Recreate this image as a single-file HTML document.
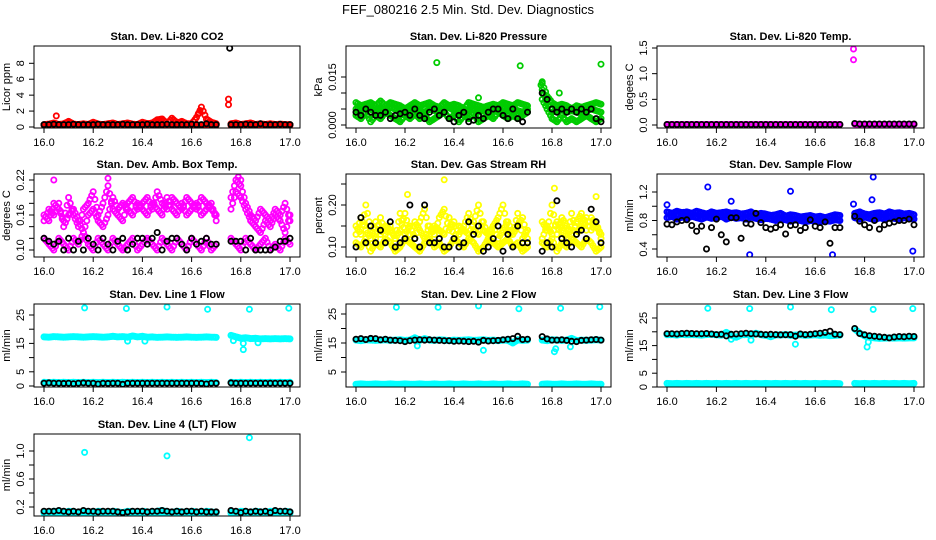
<!DOCTYPE html>
<html><head><meta charset="utf-8"><style>
html,body{margin:0;padding:0;background:#fff;}
svg{display:block;font-family:"Liberation Sans",Arial,sans-serif;}
</style></head><body>
<svg id="chart" width="936" height="540" viewBox="0 0 936 540">
<text x="468" y="14" text-anchor="middle" font-size="13">FEF_080216  2.5 Min. Std. Dev. Diagnostics</text>
</svg>
<script>
// shared time stamps (hours)
const tA=[16.00,16.02,16.04,16.06,16.08,16.10,16.12,16.14,16.16,16.18,16.20,16.22,16.24,16.26,16.28,16.30,16.32,16.34,16.36,16.38,16.40,16.42,16.44,16.46,16.48,16.50,16.52,16.54,16.56,16.58,16.60,16.62,16.64,16.66,16.68,16.70,
16.76,16.78,16.80,16.82,16.84,16.86,16.88,16.90,16.92,16.94,16.96,16.98,17.00];
const xTicks=[16.0,16.2,16.4,16.6,16.8,17.0];
const xTickLabels=["16.0","16.2","16.4","16.6","16.8","17.0"];

// Panel 1: CO2
const co2Red=[0.3,0.35,0.5,0.3,0.4,0.7,0.35,0.3,0.4,0.3,0.6,0.35,0.3,0.4,0.5,0.3,0.4,0.5,0.35,0.3,0.6,0.4,0.5,0.9,1.0,0.4,1.1,0.5,0.7,0.4,0.4,1.2,2.5,1.0,0.6,0.4,0.4,0.5,0.3,0.4,0.5,0.3,0.4,0.3,0.4,0.3,0.35,0.3,0.3];
const co2Red2=[0.2,0.25,0.2,0.15,0.25,0.2,0.2,0.25,0.2,0.15,0.2,0.25,0.2,0.2,0.15,0.25,0.2,0.2,0.25,0.2,0.15,0.2,0.25,0.2,0.2,0.25,0.2,0.15,0.2,0.25,0.2,0.2,0.25,0.2,0.2,0.25,0.2,0.25,0.2,0.15,0.2,0.25,0.2,0.2,0.15,0.2,0.25,0.2,0.2];
const co2Black=[0.3,0.3,0.35,0.3,0.3,0.3,0.35,0.3,0.3,0.3,0.3,0.35,0.3,0.3,0.3,0.3,0.35,0.3,0.3,0.3,0.3,0.35,0.3,0.3,0.3,0.35,0.3,0.3,0.3,0.3,0.35,0.3,0.3,0.4,0.3,0.3,0.3,0.3,0.3,0.35,0.3,0.3,0.4,0.3,0.3,0.3,0.35,0.3,0.3];
const co2RedOutT=[16.05,16.63,16.75,16.75], co2RedOutV=[1.4,1.8,3.5,2.8];
const co2BlackOutT=[16.755], co2BlackOutV=[9.9];

// Panel 2: Pressure
const prG1=[0.007,0.006,0.0065,0.007,0.006,0.0075,0.006,0.007,0.0065,0.006,0.005,0.006,0.007,0.006,0.0065,0.007,0.006,0.0055,0.007,0.006,0.0065,0.006,0.005,0.007,0.0065,0.006,0.0055,0.006,0.0065,0.006,0.007,0.0065,0.006,0.007,0.0065,0.006,0.013,0.009,0.007,0.006,0.0065,0.006,0.005,0.006,0.0055,0.006,0.0065,0.007,0.0065];
const prG2=[0.003,0.002,0.004,0.001,0.003,0.002,0.004,0.003,0.002,0.001,0.003,0.002,0.0035,0.002,0.003,0.001,0.002,0.003,0.004,0.002,0.003,0.001,0.003,0.002,0.0035,0.001,0.002,0.003,0.002,0.004,0.003,0.002,0.003,0.002,0.003,0.004,0.008,0.005,0.002,0.001,0.003,0.001,0.002,0.001,0.002,0.003,0.002,0.001,0.002];
const prG3=[0.005,0.0045,0.0055,0.005,0.004,0.005,0.0045,0.0055,0.005,0.004,0.0045,0.005,0.0055,0.0045,0.004,0.005,0.0045,0.004,0.005,0.0055,0.0045,0.004,0.005,0.0045,0.005,0.004,0.0045,0.005,0.0045,0.005,0.0055,0.0045,0.005,0.0045,0.004,0.005,0.011,0.007,0.004,0.0045,0.005,0.004,0.0045,0.004,0.0035,0.0045,0.005,0.0045,0.004];
const prBlack=[0.004,0.003,0.005,0.004,0.003,0.003,0.004,0.002,0.003,0.0035,0.004,0.003,0.005,0.003,0.002,0.004,0.005,0.003,0.004,0.002,0.001,0.003,0.004,0.001,0.0015,0.003,0.002,0.004,0.005,0.005,0.003,0.002,0.005,0.002,0.001,0.004,0.010,0.008,0.005,0.004,0.005,0.004,0.005,0.004,0.005,0.004,0.005,0.002,0.001];
const prOutT=[16.33,16.67,17.0,16.5,16.76,16.755,16.83], prOutV=[0.0195,0.0185,0.019,0.0085,0.0135,0.0125,0.010];

// Panel 3: Li-820 temp
const tmMag=[0.01,0.01,0.01,0.01,0.01,0.01,0.01,0.01,0.01,0.01,0.01,0.01,0.01,0.01,0.01,0.01,0.01,0.01,0.01,0.01,0.01,0.01,0.01,0.01,0.01,0.01,0.01,0.01,0.01,0.01,0.01,0.01,0.01,0.01,0.01,0.01,0.02,0.01,0.01,0.01,0.01,0.01,0.01,0.01,0.01,0.01,0.01,0.01,0.01];
const tmBlack=[0.01,0.01,0.01,0.01,0.01,0.01,0.01,0.01,0.01,0.01,0.01,0.01,0.01,0.01,0.01,0.01,0.01,0.01,0.01,0.01,0.01,0.01,0.01,0.01,0.01,0.01,0.01,0.01,0.01,0.01,0.01,0.01,0.01,0.01,0.01,0.01,0.03,0.02,0.02,0.02,0.02,0.02,0.02,0.02,0.02,0.02,0.02,0.02,0.02];
const tmOutT=[16.755,16.755], tmOutV=[1.48,1.27];

// Panel 4: Amb box temp
const bxM1=[0.16,0.15,0.18,0.17,0.15,0.19,0.16,0.14,0.17,0.18,0.20,0.16,0.18,0.21,0.17,0.16,0.15,0.18,0.19,0.17,0.18,0.19,0.17,0.20,0.18,0.17,0.19,0.18,0.17,0.19,0.18,0.17,0.19,0.18,0.17,0.16,0.19,0.22,0.21,0.18,0.16,0.15,0.17,0.16,0.15,0.17,0.16,0.18,0.15];
const bxM2=[0.15,0.17,0.16,0.18,0.14,0.16,0.17,0.15,0.13,0.16,0.17,0.15,0.14,0.16,0.19,0.17,0.18,0.17,0.16,0.18,0.17,0.16,0.18,0.17,0.16,0.19,0.17,0.16,0.18,0.16,0.17,0.18,0.16,0.17,0.18,0.15,0.17,0.20,0.19,0.17,0.15,0.14,0.13,0.15,0.14,0.16,0.15,0.13,0.16];
const bxM3=[0.12,0.11,0.10,0.12,0.11,0.10,0.12,0.11,0.13,0.11,0.10,0.12,0.11,0.10,0.12,0.11,0.10,0.11,0.12,0.10,0.11,0.12,0.11,0.10,0.12,0.11,0.10,0.12,0.11,0.10,0.12,0.11,0.10,0.12,0.10,0.11,0.12,0.11,0.10,0.12,0.11,0.10,0.11,0.12,0.10,0.11,0.10,0.12,0.11];
const bxBlack=[0.12,0.115,0.11,0.115,0.10,0.12,0.10,0.115,0.10,0.12,0.11,0.10,0.12,0.11,0.10,0.115,0.12,0.10,0.11,0.12,0.12,0.11,0.12,0.13,0.10,0.115,0.12,0.12,0.11,0.10,0.12,0.11,0.115,0.12,0.11,0.11,0.115,0.115,0.115,0.10,0.12,0.10,0.10,0.10,0.10,0.105,0.115,0.115,0.12];
const bxOutT=[16.04,16.26,16.79,16.80], bxOutV=[0.22,0.223,0.225,0.22];

// Panel 5: Gas stream RH
const rhY1=[0.11,0.10,0.12,0.09,0.11,0.10,0.12,0.11,0.09,0.10,0.12,0.11,0.10,0.09,0.11,0.12,0.10,0.11,0.09,0.10,0.12,0.11,0.10,0.12,0.11,0.09,0.10,0.12,0.11,0.10,0.11,0.12,0.10,0.11,0.09,0.10,0.11,0.10,0.12,0.09,0.11,0.10,0.12,0.11,0.10,0.12,0.11,0.09,0.10];
const rhY2=[0.15,0.13,0.20,0.14,0.12,0.17,0.13,0.15,0.12,0.14,0.18,0.13,0.16,0.14,0.12,0.15,0.13,0.17,0.19,0.14,0.16,0.13,0.15,0.18,0.14,0.13,0.16,0.12,0.15,0.17,0.20,0.14,0.13,0.15,0.17,0.12,0.16,0.14,0.20,0.13,0.17,0.15,0.13,0.16,0.18,0.14,0.17,0.15,0.13];
const rhY3=[0.13,0.17,0.14,0.12,0.16,0.13,0.15,0.14,0.12,0.18,0.13,0.15,0.12,0.16,0.19,0.13,0.15,0.14,0.13,0.17,0.12,0.15,0.14,0.13,0.16,0.20,0.14,0.13,0.15,0.12,0.14,0.16,0.13,0.18,0.12,0.14,0.12,0.15,0.13,0.16,0.14,0.12,0.18,0.13,0.15,0.17,0.14,0.16,0.12];
const rhBlack=[0.10,0.17,0.11,0.15,0.11,0.14,0.11,0.16,0.10,0.11,0.12,0.20,0.12,0.10,0.20,0.11,0.11,0.12,0.10,0.10,0.12,0.10,0.11,0.16,0.13,0.15,0.09,0.10,0.12,0.15,0.09,0.13,0.10,0.15,0.11,0.11,0.09,0.11,0.10,0.21,0.12,0.11,0.10,0.13,0.14,0.12,0.19,0.16,0.11];
const rhOutT=[16.36,16.81,16.21,16.98], rhOutV=[0.26,0.24,0.225,0.22];

// Panel 6: Sample flow
const sfB1=[0.92,0.90,0.93,0.91,0.92,0.90,0.93,0.91,0.89,0.92,0.90,0.91,0.92,0.90,0.91,0.89,0.90,0.92,0.88,0.90,0.89,0.87,0.88,0.90,0.86,0.88,0.87,0.85,0.86,0.87,0.85,0.86,0.84,0.86,0.88,0.87,0.90,0.92,0.89,0.88,0.90,0.91,0.89,0.92,0.90,0.91,0.89,0.90,0.88];
const sfB2=[0.84,0.86,0.82,0.85,0.83,0.86,0.84,0.82,0.85,0.83,0.84,0.86,0.82,0.85,0.83,0.84,0.82,0.85,0.83,0.81,0.83,0.82,0.80,0.82,0.81,0.79,0.81,0.80,0.78,0.80,0.79,0.78,0.80,0.79,0.81,0.80,0.84,0.82,0.85,0.83,0.81,0.84,0.82,0.85,0.83,0.82,0.84,0.83,0.82];
const sfBlack=[0.75,0.74,0.78,0.80,0.81,0.73,0.65,0.72,0.40,0.70,0.82,0.60,0.50,0.84,0.84,0.55,0.76,0.75,0.90,0.77,0.70,0.68,0.70,0.74,0.61,0.73,0.74,0.66,0.70,0.81,0.72,0.70,0.78,0.48,0.70,0.70,0.86,0.79,0.74,0.70,0.80,0.68,0.74,0.76,0.78,0.80,0.80,0.82,0.74];
const sfOutT=[16.165,16.5,16.335,16.67,16.835,16.995,16.26,16.83,16.0,16.755], sfOutV=[1.27,1.21,0.32,0.32,1.41,0.37,1.07,1.09,1.02,1.03];

// Panel 7: Line 1 flow
const l1C1=[17.3,17.2,17.4,17.3,17.2,17.3,17.4,17.3,17.2,17.3,17.4,17.3,17.2,17.3,17.5,17.3,17.4,17.2,17.6,17.3,17.5,17.2,17.3,17.1,17.2,17.3,17.2,17.1,17.2,17.3,17.2,17.1,17.2,17.3,17.2,17.1,17.8,17.3,16.8,17.0,16.7,16.8,16.6,16.7,16.6,16.7,16.6,16.7,16.6];
const l1C2=[1.3,1.2,1.3,1.2,1.3,1.2,1.3,1.2,1.3,1.2,1.3,1.2,1.3,1.2,1.3,1.2,1.3,1.2,1.3,1.2,1.3,1.2,1.3,1.2,1.3,1.2,1.3,1.2,1.3,1.2,1.3,1.2,1.3,1.2,1.3,1.2,1.3,1.2,1.3,1.2,1.3,1.2,1.3,1.2,1.3,1.2,1.3,1.2,1.3];
const l1Black=[1.0,1.1,1.0,1.0,0.9,1.0,0.8,1.0,1.1,1.0,1.0,0.7,1.0,0.9,1.0,1.0,0.6,1.0,1.0,1.0,1.0,1.0,1.0,1.0,1.0,1.0,1.0,1.0,1.0,1.0,1.0,1.0,0.9,0.7,1.0,1.0,1.1,1.0,1.0,1.0,1.0,1.0,1.0,1.0,1.0,1.0,1.0,1.0,1.0];
const l1OutT=[16.165,16.335,16.5,16.665,16.835,16.995,16.81,16.81,16.34,16.41,16.77,16.87], l1OutV=[27.5,27.3,27.8,27.0,27.0,27.4,12.8,15.0,15.8,15.8,16.0,15.2];

// Panel 8: Line 2 flow
const l2C1=[16.0,15.8,16.1,16.0,15.9,16.0,16.1,15.9,16.0,16.1,15.9,16.0,16.8,15.9,16.5,16.0,15.9,16.1,16.0,15.8,16.0,15.9,16.0,16.1,15.9,16.0,16.1,15.9,16.0,15.8,16.0,15.9,15.0,16.1,15.9,16.0,16.0,15.8,16.1,16.0,15.9,16.0,16.6,15.8,16.0,15.9,16.0,16.1,16.0];
const l2C2=[0.8,0.9,0.8,0.8,0.9,0.8,0.8,0.9,0.8,0.8,0.9,0.8,0.8,0.9,0.8,0.8,0.9,0.8,0.8,0.9,0.8,0.8,0.9,0.8,0.8,0.9,0.8,0.8,0.9,0.8,0.8,0.9,0.8,0.8,0.9,0.8,0.8,0.9,0.8,0.8,0.9,0.8,0.8,0.9,0.8,0.8,0.9,0.8,0.8];
const l2Black=[16.3,16.5,16.2,16.6,16.5,16.1,16.3,16.0,15.9,15.8,15.5,15.8,16.0,16.1,16.0,16.1,16.0,15.9,15.8,15.8,15.6,15.7,15.6,15.5,15.6,15.3,15.9,15.7,15.8,15.9,16.1,16.3,16.5,17.3,16.2,16.3,17.2,16.4,16.0,16.0,16.1,15.9,15.6,15.5,15.9,16.0,16.1,16.2,16.0];
const l2OutT=[16.165,16.335,16.5,16.665,16.835,16.995,16.52,16.81,16.815,16.25,16.875], l2OutV=[27.3,27.3,27.8,26.8,27.0,27.5,12.5,12.0,13.0,14.0,13.7];

// Panel 9: Line 3 flow
const l3C1=[18.9,19.0,18.8,19.1,18.9,19.0,18.9,18.8,19.0,19.1,18.9,18.8,19.8,18.7,18.0,18.9,19.0,18.8,19.5,18.9,18.7,18.2,18.9,18.8,19.0,18.7,18.8,18.9,18.7,18.8,18.9,18.7,18.8,18.6,18.7,18.8,21.0,19.5,18.5,18.0,17.8,17.6,17.7,17.8,17.7,17.8,17.7,17.8,17.8];
const l3C2=[1.3,1.2,1.3,1.2,1.3,1.2,1.3,1.2,1.3,1.2,1.3,1.2,1.3,1.2,1.3,1.2,1.3,1.2,1.3,1.2,1.3,1.2,1.3,1.2,1.3,1.2,1.3,1.2,1.3,1.2,1.3,1.2,1.3,1.2,1.3,1.2,1.3,1.2,1.3,1.2,1.3,1.2,1.3,1.2,1.3,1.2,1.3,1.2,1.3];
const l3Black=[19.3,19.3,19.2,19.4,19.5,19.4,19.3,19.3,19.4,19.2,19.0,19.1,18.5,19.1,19.2,19.3,19.5,19.3,19.2,19.1,19.0,19.1,19.0,18.9,18.9,19.0,18.4,19.2,19.0,19.1,19.3,19.5,19.8,20.2,19.1,19.0,21.2,19.4,18.9,18.6,18.4,18.2,18.0,17.8,18.1,18.3,18.2,18.4,18.3];
const l3OutT=[16.165,16.335,16.5,16.665,16.835,16.995,16.52,16.81,16.815,16.34,16.26], l3OutV=[28.5,28.4,29.0,28.0,28.1,28.4,15.5,14.5,16.3,17.0,17.3];

// Panel 10: Line 4 flow
const l4C1=[0.13,0.12,0.14,0.13,0.12,0.14,0.13,0.12,0.14,0.13,0.12,0.14,0.13,0.12,0.14,0.13,0.12,0.14,0.13,0.12,0.14,0.13,0.12,0.14,0.15,0.13,0.12,0.14,0.13,0.12,0.14,0.13,0.12,0.14,0.13,0.12,0.13,0.12,0.14,0.13,0.12,0.14,0.13,0.12,0.14,0.13,0.12,0.14,0.13];
const l4C2=[0.11,0.12,0.11,0.12,0.11,0.12,0.11,0.12,0.11,0.12,0.11,0.12,0.11,0.12,0.11,0.12,0.11,0.12,0.11,0.12,0.11,0.12,0.11,0.12,0.11,0.12,0.11,0.12,0.11,0.12,0.11,0.12,0.11,0.12,0.11,0.12,0.11,0.12,0.11,0.12,0.11,0.12,0.11,0.12,0.11,0.12,0.11,0.12,0.11];
const l4Black=[0.14,0.14,0.14,0.15,0.14,0.13,0.14,0.13,0.15,0.14,0.14,0.13,0.14,0.14,0.14,0.13,0.12,0.13,0.14,0.14,0.14,0.13,0.14,0.14,0.15,0.14,0.13,0.14,0.13,0.14,0.14,0.13,0.14,0.13,0.13,0.13,0.15,0.14,0.12,0.14,0.13,0.14,0.13,0.14,0.12,0.15,0.14,0.14,0.13];
const l4OutT=[16.165,16.5,16.835], l4OutV=[0.98,0.93,1.19];

const RED="#ff0000",GRN="#00cc00",MAG="#ff00ff",YEL="#ffff00",BLU="#0000ff",CYN="#00ffff",BLK="#000000";
// 4th element: dense band (2.5-min samples drawn at each sub-interval)
const panels=[
 {name:"co2",title:"Stan. Dev. Li-820 CO2",ylab:"Licor ppm",col:0,row:0,ref:[0,127,8,63.3],ticks:[0,2,4,6,8],labels:[0,2,4,6,8],lf:v=>String(v),
  series:[[tA,co2Red2,RED,1],[tA,co2Red,RED,1],[co2RedOutT,co2RedOutV,RED],[tA,co2Black,BLK],[co2BlackOutT,co2BlackOutV,BLK]]},
 {name:"pressure",title:"Stan. Dev. Li-820 Pressure",ylab:"kPa",col:1,row:0,ref:[0,125,0.015,77],ticks:[0,0.005,0.01,0.015],labels:[0,0.015],lf:v=>v.toFixed(3),
  series:[[tA,prG2,GRN,1],[tA,prG3,GRN,1],[tA,prG1,GRN,1],[prOutT,prOutV,GRN],[tA,prBlack,BLK]]},
 {name:"li820-temp",title:"Stan. Dev. Li-820 Temp.",ylab:"degees C",col:2,row:0,ref:[0,125,1.5,48],ticks:[0,0.5,1,1.5],labels:[0,0.5,1,1.5],lf:v=>v.toFixed(1),
  series:[[tA,tmMag,MAG,1],[tmOutT,tmOutV,MAG],[tA,tmBlack,BLK]]},
 {name:"box-temp",title:"Stan. Dev. Amb. Box Temp.",ylab:"degrees C",col:0,row:1,ref:[0.10,250,0.22,180],ticks:[0.10,0.12,0.14,0.16,0.18,0.20,0.22],labels:[0.10,0.16,0.22],lf:v=>v.toFixed(2),
  series:[[tA,bxM3,MAG,1],[tA,bxM2,MAG,1],[tA,bxM1,MAG,1],[bxOutT,bxOutV,MAG],[tA,bxBlack,BLK]]},
 {name:"gas-rh",title:"Stan. Dev. Gas Stream RH",ylab:"percent",col:1,row:1,ref:[0.10,247,0.20,205],ticks:[0.10,0.15,0.20,0.25],labels:[0.10,0.20],lf:v=>v.toFixed(2),
  series:[[tA,rhY1,YEL,1],[tA,rhY2,YEL,1],[tA,rhY3,YEL,1],[rhOutT,rhOutV,YEL],[tA,rhBlack,BLK]]},
 {name:"sample-flow",title:"Stan. Dev. Sample Flow",ylab:"ml/min",col:2,row:1,ref:[0.4,249,1.2,192],ticks:[0.4,0.6,0.8,1.0,1.2],labels:[0.4,0.8,1.2],lf:v=>v.toFixed(1),
  series:[[tA,sfB2,BLU,1],[tA,sfB1,BLU,1],[sfOutT,sfOutV,BLU],[tA,sfBlack,BLK]]},
 {name:"line1-flow",title:"Stan. Dev. Line 1 Flow",ylab:"ml/min",col:0,row:2,ref:[0,386,25,315],ticks:[0,5,10,15,20,25],labels:[0,5,15,25],lf:v=>String(v),
  series:[[tA,l1C1,CYN,1],[tA,l1C2,CYN,1],[l1OutT,l1OutV,CYN],[tA,l1Black,BLK]]},
 {name:"line2-flow",title:"Stan. Dev. Line 2 Flow",ylab:"ml/min",col:1,row:2,ref:[5,372,25,314],ticks:[5,10,15,20,25],labels:[5,15,25],lf:v=>String(v),
  series:[[tA,l2C1,CYN,1],[tA,l2C2,CYN,1],[l2OutT,l2OutV,CYN],[tA,l2Black,BLK]]},
 {name:"line3-flow",title:"Stan. Dev. Line 3 Flow",ylab:"ml/min",col:2,row:2,ref:[0,387,25,318],ticks:[0,5,10,15,20,25],labels:[0,5,15,25],lf:v=>String(v),
  series:[[tA,l3C1,CYN,1],[tA,l3C2,CYN,1],[l3OutT,l3OutV,CYN],[tA,l3Black,BLK]]},
 {name:"line4-flow",title:"Stan. Dev. Line 4 (LT) Flow",ylab:"ml/min",col:0,row:3,ref:[0.2,507,1.0,451],ticks:[0.2,0.4,0.6,0.8,1.0],labels:[0.2,0.6,1.0],lf:v=>v.toFixed(1),
  series:[[tA,l4C1,CYN,1],[tA,l4C2,CYN,1],[l4OutT,l4OutV,CYN],[tA,l4Black,BLK]]}
];
const colX=[[34,300],[346,611],[657,924]];
const rowY=[[46,128],[174,257],[304,387],[434,516]];
const NS="http://www.w3.org/2000/svg";
const svg=document.getElementById('chart');
function mk(tag,attrs,parent){const e=document.createElementNS(NS,tag);for(const k in attrs)e.setAttribute(k,attrs[k]);parent.appendChild(e);return e;}
panels.forEach(p=>{
  const [x0,x1]=colX[p.col],[y0,y1]=rowY[p.row];
  const g=mk('g',{},svg);
  
  
  const xs=t=>x0+10+(t-16)*(x1-x0-20);
  const [v1,p1,v2,p2]=p.ref;
  const ys=v=>p1+(v-v1)*(p2-p1)/(v2-v1);
  const clip='clip-'+p.name;
  const cp=mk('clipPath',{id:clip},g);mk('rect',{x:x0,y:y0,width:x1-x0,height:y1-y0},cp);
  const pts=mk('g',{'clip-path':'url(#'+clip+')',fill:'none','stroke-width':1.8},g);
  
  
  p.series.forEach(s=>{
    const [T,V,c,dense]=s;
    const offs=dense?[0,0.007,0.014]:[0];
    for(let i=0;i<V.length;i++){
      offs.forEach((o,k)=>{
        if(dense && i<V.length-1 && T[i+1]-T[i]>0.03 && k>0) return;
        if(dense && i===V.length-1 && k>0) return;
        const nv=(dense&&k>0&&i<V.length-1)?V[i]+(V[i+1]-V[i])*(k/3):V[i];
        const e=mk('circle',{cx:xs(T[i]+o).toFixed(1),cy:ys(nv).toFixed(1),r:2.6,stroke:c},pts);
        
        
      });
    }
  });
  const box=mk('rect',{x:x0,y:y0,width:x1-x0,height:y1-y0,fill:'none',stroke:'#000','stroke-width':1},g);
  
  
  const tt=mk('text',{x:(x0+x1)/2,y:y0-6,'text-anchor':'middle','font-size':11,'font-weight':'bold'},g);
  tt.textContent=p.title;
  
  
  xTicks.forEach((t,i)=>{
    mk('line',{x1:xs(t),x2:xs(t),y1:y1,y2:y1+5,stroke:'#000'},g);
    const l=mk('text',{x:xs(t),y:y1+18,'text-anchor':'middle','font-size':11},g);
    l.textContent=xTickLabels[i];
    
    
  });
  mk('line',{x1:x0,x2:x0,y1:ys(p.ticks[0]),y2:ys(p.ticks[p.ticks.length-1]),stroke:'#000'},g);
  p.ticks.forEach(v=>mk('line',{x1:x0-5,x2:x0,y1:ys(v),y2:ys(v),stroke:'#000'},g));
  p.labels.forEach(v=>{
    const X=x0-10,Y=ys(v);
    const l=mk('text',{x:X,y:Y,'text-anchor':'middle','font-size':11,transform:`rotate(-90 ${X} ${Y})`},g);
    l.textContent=p.lf(v);
    
    
  });
  const YX=x0-24,YY=(y0+y1)/2;
  const yl=mk('text',{x:YX,y:YY,'text-anchor':'middle','font-size':11,transform:`rotate(-90 ${YX} ${YY})`},g);
  yl.textContent=p.ylab;
  
  
});
</script>
</body></html>
